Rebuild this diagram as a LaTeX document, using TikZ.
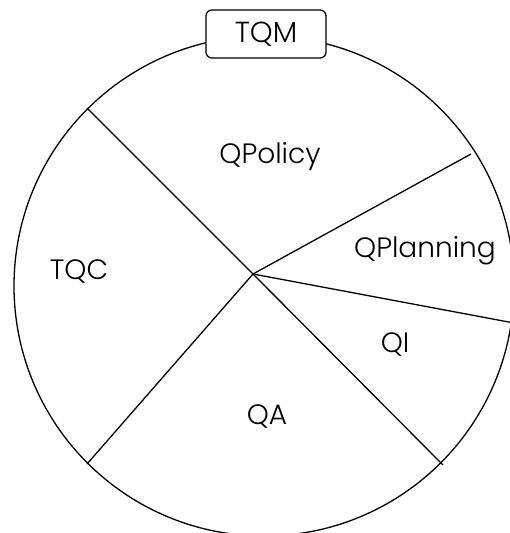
\documentclass[tikz,border=0pt]{standalone}
\usepackage{fontspec}
\setmainfont{Poppins}[UprightFont=* Light]
\begin{document}
\begin{tikzpicture}[x=1pt,y=-1pt,
  rim/.style={circle, draw, line width=1.3pt, minimum size=500pt, inner sep=0pt},
  divider/.style={line width=1.3pt},
  sector/.style={font=\fontsize{28}{30}\selectfont, anchor=base, inner sep=0pt},
  titlebox/.style={draw, line width=1.3pt, rounded corners=6pt, fill=white,
    minimum width=120pt, minimum height=48pt, inner sep=0pt,
    font=\fontsize{29}{30}\selectfont}]
\useasboundingbox (0,0) rectangle (510,533);
\clip (0,0) rectangle (510,533);
% outer wheel
\node[rim] (wheel) at (264,286) {};
% hub and spoke ends
\coordinate (hub) at (253,274);
\coordinate (ul) at (87,108);
\coordinate (ur) at (471,154);
\coordinate (rr) at (514,323);
\coordinate (lr) at (443,465);
\coordinate (ll) at (87,464);
\draw[divider] (hub) -- (ul);
\draw[divider] (hub) -- (ur);
\draw[divider] (hub) -- (rr);
\draw[divider] (hub) -- (lr);
\draw[divider] (hub) -- (ll);
% title
\node[titlebox] (tqm) at (266,34) {TQM};
% sector labels
\node[sector] (policy) at (270,163) {QPolicy};
\node[sector] (planning) at (425,257) {QPlanning};
\node[sector] (tqc) at (79,279) {TQC};
\node[sector] (qi) at (395,352) {QI};
\node[sector] (qa) at (267,424) {QA};
\end{tikzpicture}
\end{document}
